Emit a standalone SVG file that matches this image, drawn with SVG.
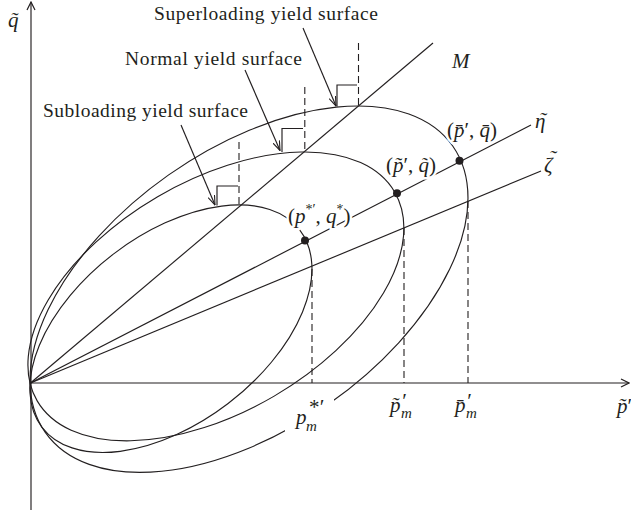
<svg xmlns="http://www.w3.org/2000/svg" width="631" height="516" viewBox="0 0 631 516">
<defs>
<style>
.ln{fill:none;stroke:#231f20;stroke-width:1.15}
.ds{fill:none;stroke:#231f20;stroke-width:1.1;stroke-dasharray:7 4}
.t{font-family:"Liberation Serif","Times New Roman",serif;font-size:19.5px;fill:#231f20}
.m{font-family:"Liberation Serif","Times New Roman",serif;font-size:21px;fill:#231f20}
.halo{stroke:#fff;stroke-width:5;stroke-linejoin:round;paint-order:stroke}
.it{font-style:italic}
.dot{fill:#231f20}
</style>
<marker id="arr" viewBox="0 0 10 8" refX="9.5" refY="4" markerWidth="10" markerHeight="8" markerUnits="userSpaceOnUse" orient="auto">
<path d="M0,0.5 L9.5,4 L0,7.5" fill="none" stroke="#231f20" stroke-width="1.1"/>
</marker>
<marker id="ax" viewBox="0 0 10 10" refX="9" refY="5" markerWidth="10" markerHeight="10" markerUnits="userSpaceOnUse" orient="auto">
<path d="M1,1 L9,5 L1,9" fill="none" stroke="#231f20" stroke-width="1.2"/>
</marker>
</defs>
<rect width="631" height="516" fill="#fff"/>

<g id="axes">
<line class="ln" x1="31" y1="510" x2="31" y2="2" marker-end="url(#ax)"/>
<line class="ln" x1="30" y1="383" x2="629" y2="383" marker-end="url(#ax)"/>
</g>

<g id="yield-surfaces">
<ellipse id="subloading-surface" class="ln" cx="170.9" cy="328.7" rx="162.3" ry="94.2" transform="rotate(-37.4 170.9 328.7)"/>
<ellipse id="normal-surface" class="ln" cx="215.9" cy="296.4" rx="207" ry="115.5" transform="rotate(-30.3 215.9 296.4)"/>
<ellipse id="superloading-surface" class="ln" cx="249" cy="289.2" rx="249" ry="139.7" transform="rotate(-35.1 249 289.2)"/>
</g>

<g id="connectors">
<line id="line-M" class="ln" x1="30.5" y1="383" x2="433" y2="43"/>
<line id="line-eta" class="ln" x1="30.5" y1="383" x2="531" y2="125"/>
<line id="line-zeta" class="ln" x1="30.5" y1="383" x2="541" y2="171"/>
<line class="ds" x1="239" y1="142" x2="239" y2="205"/>
<line class="ds" x1="304.8" y1="87" x2="304.8" y2="152"/>
<line class="ds" x1="358.5" y1="43" x2="358.5" y2="106"/>
<line class="ds" x1="312" y1="269" x2="312" y2="383"/>
<line class="ds" x1="404" y1="228" x2="404" y2="383"/>
<line class="ds" x1="468" y1="201" x2="468" y2="383"/>
<path class="ln" d="M217,205.5 V186 H238"/>
<path class="ln" d="M282,152 V128.5 H303"/>
<path class="ln" d="M337,106.5 V85 H357"/>
<line class="ln" x1="181" y1="125" x2="215" y2="205" marker-end="url(#arr)"/>
<line class="ln" x1="245" y1="70" x2="280" y2="150.5" marker-end="url(#arr)"/>
<line class="ln" x1="303" y1="28" x2="336" y2="106" marker-end="url(#arr)"/>
</g>

<g id="points">
<circle id="pt-star" class="dot" cx="305" cy="240.5" r="4"/>
<circle id="pt-tilde" class="dot" cx="397" cy="193.2" r="4"/>
<circle id="pt-bar" class="dot" cx="459.5" cy="160.8" r="4"/>
</g>

<g id="labels">
<text class="t" x="154" y="19.5" textLength="224">Superloading yield surface</text>
<text class="t" x="125" y="65" textLength="177">Normal yield surface</text>
<text class="t" x="43" y="117" textLength="205">Subloading yield surface</text>

<text class="m it" x="8" y="27" font-size="20">q̃</text>
<text class="m it" x="452" y="68">M</text>
<text class="m it" x="535" y="128">η<tspan class="m" x="539" y="127">˜</tspan></text>
<text class="m it" x="544" y="172">ζ<tspan class="m" x="549" y="165">˜</tspan></text>

<text class="m halo" x="288" y="223">(<tspan class="it">p</tspan><tspan font-size="14" dy="-9">*′</tspan><tspan dy="9">, </tspan><tspan class="it">q</tspan><tspan font-size="14" dy="-9">*</tspan><tspan dy="9">)</tspan></text>
<text class="m halo" x="386" y="172">(<tspan class="it">p̃</tspan>′, <tspan class="it">q̃</tspan>)</text>
<text class="m halo" x="447" y="137">(<tspan class="it">p̄</tspan>′, <tspan class="it">q̄</tspan>)</text>

<rect x="285" y="399" width="49" height="34" fill="#fff"/>
<text class="m it" x="296" y="424">p<tspan class="m" font-size="14" x="308" y="414">*′</tspan><tspan font-size="15" x="306" y="431">m</tspan></text>
<text class="m it" x="390" y="412">p̃<tspan class="m" x="401" y="408">′</tspan><tspan font-size="15" x="401" y="418">m</tspan></text>
<text class="m it" x="455" y="412">p̄<tspan class="m" x="466" y="408">′</tspan><tspan font-size="15" x="466" y="418">m</tspan></text>

<text class="m" x="617" y="413"><tspan class="it">p̃</tspan>′</text>
</g>
</svg>
